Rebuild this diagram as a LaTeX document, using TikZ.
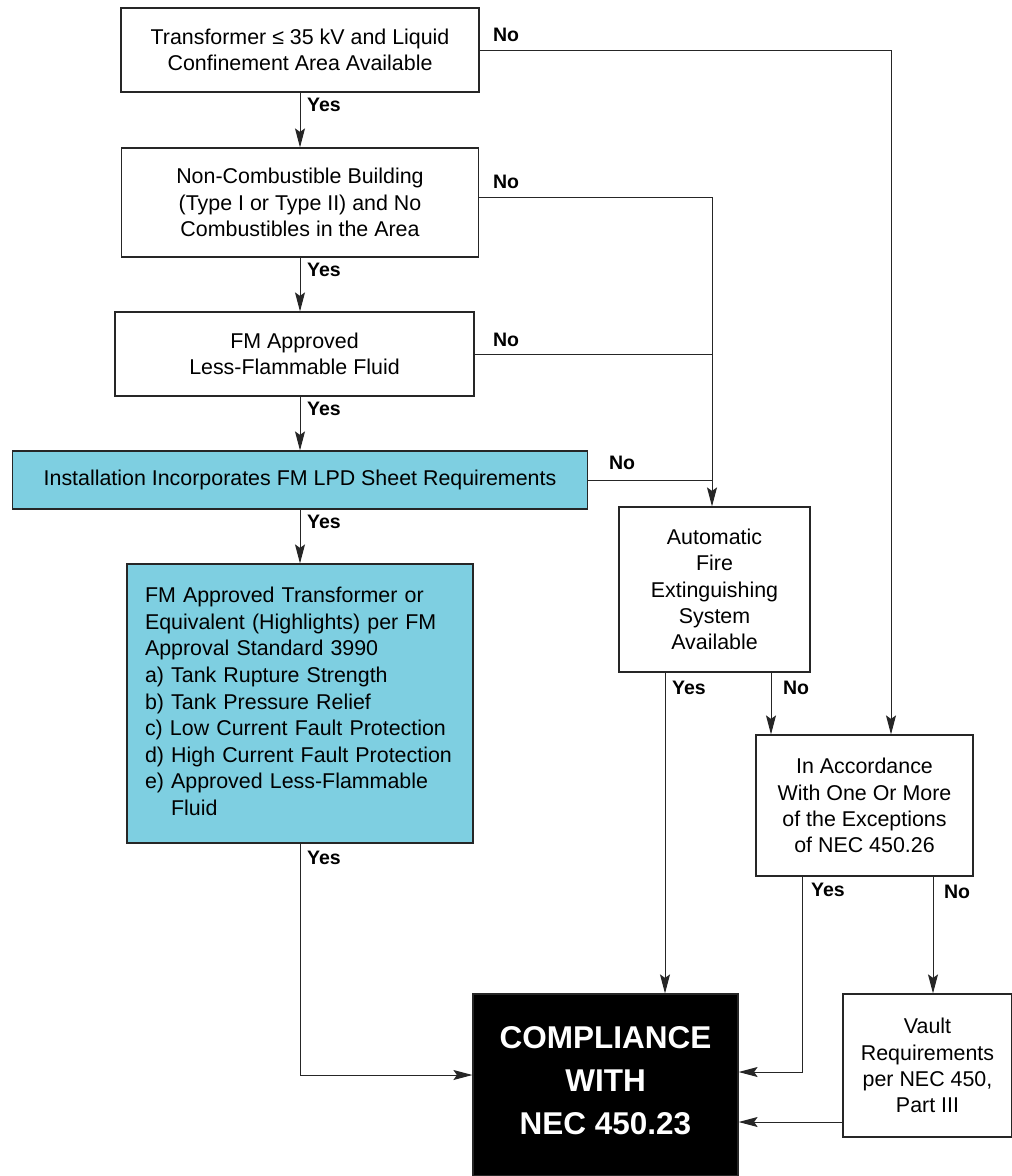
\documentclass[tikz,border=0pt]{standalone}
\usepackage{fontspec}
\setmainfont{Liberation Sans}
\usetikzlibrary{arrows.meta}
\definecolor{fmblue}{RGB}{126,207,225}
\begin{document}
\begin{tikzpicture}[x=1pt,y=-1pt,line width=1pt,draw=black!85,
  box/.style={draw,line width=1.2pt,rectangle,inner sep=0pt,align=center,font=\fontsize{21.4}{26.3}\selectfont},
  yn/.style={font=\fontsize{19.5}{22}\selectfont\bfseries},
  arr/.style={-{Stealth[length=19pt,width=10pt,inset=3.5pt]}}]
\useasboundingbox (0,0) rectangle (1012,1176);

\node[box,minimum width=358pt,minimum height=84pt] (trans) at (300,50) {Transformer ≤ 35 kV and Liquid\\Confinement Area Available};
\node[box,minimum width=357pt,minimum height=109pt] (noncomb) at (300,202.5) {Non-Combustible Building\\(Type I or Type II) and No\\Combustibles in the Area};
\node[box,minimum width=359pt,minimum height=84pt] (fluid) at (294.5,354) {FM Approved\\Less-Flammable Fluid};
\node[box,fill=fmblue,minimum width=575pt,minimum height=58pt] (install) at (300,480) {Installation Incorporates FM LPD Sheet Requirements};
\node[box,fill=fmblue,minimum width=346pt,minimum height=279pt,align=left,text width=310pt,font=\fontsize{21.4}{26.6}\selectfont] (fmtrans) at (300,703.5) {FM Approved Transformer or\\Equivalent (Highlights) per FM\\Approval Standard 3990\\a) Tank Rupture Strength\\b) Tank Pressure Relief\\c) Low Current Fault Protection\\d) High Current Fault Protection\\e) Approved Less-Flammable\\\phantom{e) }Fluid};
\node[box,minimum width=191pt,minimum height=165pt] (auto) at (714.5,589.5) {Automatic\\Fire\\Extinguishing\\System\\Available};
\node[box,minimum width=217pt,minimum height=141pt] (accord) at (864.5,805.5) {In Accordance\\With One Or More\\of the Exceptions\\of NEC 450.26};
\node[box,minimum width=169pt,minimum height=143pt] (vault) at (927.5,1065.5) {Vault\\Requirements\\per NEC 450,\\Part III};
\node[box,fill=black,minimum width=265pt,minimum height=182pt] (comp) at (605.5,1085) {};
\node[align=center,text=white,font=\fontsize{31.5}{43}\selectfont\bfseries] (comptext) at ([yshift=4pt]comp.center) {COMPLIANCE\\WITH\\NEC 450.23};

\coordinate (r1) at (891,50);
\coordinate (r2) at (712,197);

\draw[arr] (trans) -- (noncomb);
\draw[arr] (noncomb.south) -- (noncomb.south |- fluid.north);
\draw[arr] (noncomb.south |- fluid.south) -- (install.north);
\draw[arr] (install) -- (fmtrans);
\draw[arr] (fmtrans.south) |- ([yshift=10pt]comp.west);

\draw[arr] (trans.east) -- (r1) -- (r1 |- accord.north);
\draw[arr] (noncomb.east |- r2) -- (r2) -- (r2 |- auto.north);
\draw (fluid.east) -- (fluid.east -| r2);
\draw (install.east) -- (install.east -| r2);

\draw[arr] ([xshift=-49.5pt]auto.south) -- ([xshift=-49.5pt]auto.south |- comp.north);
\draw[arr] ([xshift=56.5pt]auto.south) -- ([xshift=56.5pt]auto.south |- accord.north);
\draw[arr] ([xshift=-62.5pt]accord.south) |- ([yshift=13pt]comp.east);
\draw[arr] ([xshift=68.5pt]accord.south) -- ([xshift=68.5pt]accord.south |- vault.north);
\draw[arr] ([yshift=-56.5pt]vault.west) -- ([yshift=-37pt]comp.east);

\node[yn] (yes1) at (324,105) {Yes};
\node[yn] (yes2) at (324,270) {Yes};
\node[yn] (yes3) at (324,409) {Yes};
\node[yn] (yes4) at (324,522) {Yes};
\node[yn] (yes5) at (324,858) {Yes};
\node[yn] (yes6) at (689,688) {Yes};
\node[yn] (yes7) at (828,890) {Yes};
\node[yn] (no1) at (506,35) {No};
\node[yn] (no2) at (506,182) {No};
\node[yn] (no3) at (506,340) {No};
\node[yn] (no4) at (622,463) {No};
\node[yn] (no5) at (796,688) {No};
\node[yn] (no6) at (957,892) {No};
\end{tikzpicture}
\end{document}
